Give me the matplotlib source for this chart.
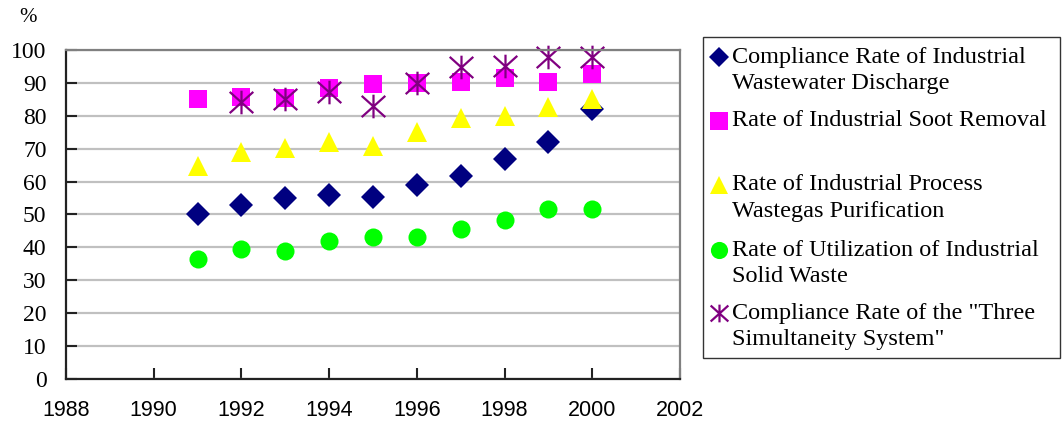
import matplotlib
matplotlib.use("Agg")
import matplotlib.pyplot as plt
from matplotlib.lines import Line2D
from matplotlib.patches import Rectangle
from matplotlib.path import Path

years = [1991, 1992, 1993, 1994, 1995, 1996, 1997, 1998, 1999, 2000]
wastewater = [50.2, 53.0, 55.0, 55.8, 55.4, 59.1, 61.8, 67.0, 72.0, 82.0]
soot = [85.1, 85.6, 85.5, 88.4, 89.7, 89.9, 90.4, 91.6, 90.4, 92.7]
wastegas = [64.6, 68.9, 70.3, 71.9, 70.8, 75.1, 79.4, 79.9, 82.7, 85.2]
solid_waste = [36.6, 39.6, 38.8, 41.8, 43.1, 43.1, 45.6, 48.3, 51.8, 51.8]
star_years = [1992, 1993, 1994, 1995, 1996, 1997, 1998, 1999, 2000]
three_simul = [84.3, 85.1, 87.3, 83.0, 89.9, 94.9, 95.1, 98.0, 97.8]

labels = [
    "Compliance Rate of Industrial\nWastewater Discharge",
    "Rate of Industrial Soot Removal\n",
    "Rate of Industrial Process\nWastegas Purification",
    "Rate of Utilization of Industrial\nSolid Waste",
    "Compliance Rate of the \"Three\nSimultaneity System\"",
]

# asterisk marker: an X with a vertical bar through it
asterisk = Path(
    [(-0.5, -0.45), (0.5, 0.45), (-0.5, 0.45), (0.5, -0.45), (0, -0.5), (0, 0.5)],
    [Path.MOVETO, Path.LINETO, Path.MOVETO, Path.LINETO, Path.MOVETO, Path.LINETO],
)

styles = [
    dict(marker="D", ms=12.2, mfc="#000080", mec="#000080", mew=0),
    dict(marker="s", ms=13, mfc="#ff00ff", mec="#ff00ff", mew=0),
    dict(marker="^", ms=14, mfc="#ffff00", mec="#ffff00", mew=0),
    dict(marker="o", ms=13, mfc="#00ff00", mec="#00ff00", mew=0),
    dict(marker=asterisk, ms=17, mfc="none", mec="#800080", mew=1.6),
]

W, H = 1062, 425
fig = plt.figure(figsize=(W / 100, H / 100), dpi=100)
ax = fig.add_axes([66 / W, 1 - 379 / H, 614 / W, 329 / H])

series = [(years, wastewater), (years, soot), (years, wastegas),
          (years, solid_waste), (star_years, three_simul)]
for (xs, ys), st in zip(series, styles):
    ax.plot(xs, ys, linestyle="none", clip_on=False, **st)

ax.set_xlim(1988, 2002)
ax.set_ylim(0, 100)
ax.set_xticks(range(1988, 2003, 2))
ax.set_yticks(range(0, 101, 10))
ax.yaxis.grid(True, color="#c0c0c0", linewidth=1.6)
ax.set_axisbelow(True)
ax.tick_params(axis="both", direction="in", length=8, width=1.5, color="#222222")
ax.tick_params(axis="x", pad=15)
ax.tick_params(axis="y", pad=14)
for lab in ax.get_xticklabels():
    lab.set_fontfamily("Liberation Sans")
    lab.set_fontsize(15.5)
for lab in ax.get_yticklabels():
    lab.set_fontfamily("Liberation Serif")
    lab.set_fontsize(17)

ax.spines["left"].set_color("#222222")
ax.spines["bottom"].set_color("#222222")
ax.spines["top"].set_color("#808080")
ax.spines["right"].set_color("#808080")
for sp in ax.spines.values():
    sp.set_linewidth(1.6)

fig.text(28 / W, 1 - 17 / H, "%", ha="center", va="center",
         fontfamily="Liberation Serif", fontsize=15)

# legend box drawn by hand so markers line up with the first text line
fig.add_artist(Rectangle((703 / W, 1 - 358 / H), 357 / W, 321 / H,
                         transform=fig.transFigure, fill=False,
                         edgecolor="#333333", linewidth=1))
leg_sizes = [0.85, 0.95, 0.95, 0.95, 0.75]
first_line = [57, 121, 185, 250, 313]
for lab, st, sc, y0 in zip(labels, styles, leg_sizes, first_line):
    st = dict(st)
    st["ms"] = st["ms"] * sc
    fig.add_artist(Line2D([719 / W], [1 - y0 / H], transform=fig.transFigure,
                          linestyle="none", **st))
    for i, line in enumerate(lab.split("\n")):
        fig.text(732 / W, 1 - (y0 + i * 27) / H, line, ha="left", va="center",
                 fontfamily="Liberation Serif", fontsize=17.5)

fig.savefig("out.png", dpi=100)
